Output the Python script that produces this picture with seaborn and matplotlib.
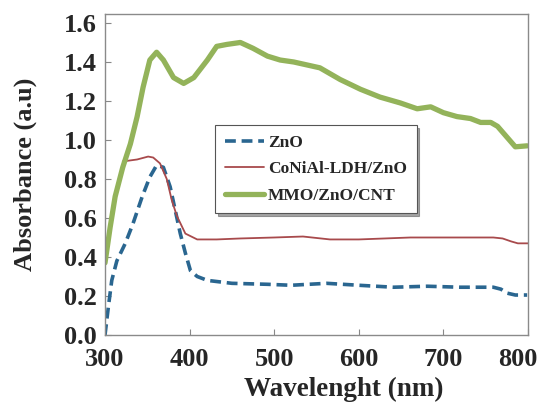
import matplotlib
matplotlib.use("Agg")
import matplotlib.pyplot as plt
import matplotlib.transforms as mtrans
import seaborn as sns
import pandas as pd

# ZnO
zno_x = [300, 304, 308, 314, 324, 333, 344, 353, 361, 369, 377, 383, 389, 395, 401, 409, 421, 450,
         492, 520, 562, 600, 641, 681, 720, 759, 768, 775, 785, 799]
zno_y = [0.00, 0.145, 0.28, 0.38, 0.47, 0.57, 0.71, 0.81, 0.87, 0.86, 0.76, 0.64, 0.52, 0.42, 0.33,
         0.30, 0.28, 0.265, 0.26, 0.255, 0.265, 0.255, 0.245, 0.25, 0.245, 0.245, 0.235, 0.215,
         0.205, 0.205]
# CoNiAl-LDH/ZnO
ldh_x = [321, 338, 351, 357, 365, 373, 379, 385, 395, 409, 432, 460, 500, 534, 566, 600, 661,
         700, 759, 770, 780, 788, 800]
ldh_y = [0.89, 0.90, 0.915, 0.91, 0.88, 0.80, 0.69, 0.61, 0.52, 0.49, 0.49, 0.495, 0.50, 0.505,
         0.49, 0.49, 0.50, 0.50, 0.50, 0.495, 0.48, 0.47, 0.47]
# MMO/ZnO/CNT
mmo_x = [300, 301, 306, 312, 321, 330, 338, 345, 353, 361, 369, 381, 393, 405, 421, 432, 444, 460,
         475, 492, 507, 523, 554, 578, 602, 625, 649, 669, 685, 700, 716, 732, 744, 756, 764, 776,
         785, 799]
mmo_y = [0.37, 0.40, 0.55, 0.71, 0.86, 0.98, 1.12, 1.27, 1.41, 1.45, 1.41, 1.32, 1.29, 1.32, 1.41,
         1.48, 1.49, 1.50, 1.47, 1.43, 1.41, 1.40, 1.37, 1.31, 1.26, 1.22, 1.19, 1.16, 1.17, 1.14,
         1.12, 1.11, 1.09, 1.09, 1.07, 1.01, 0.965, 0.97]

labels = ["ZnO", "CoNiAl-LDH/ZnO", "MMO/ZnO/CNT"]
x_ticks = [300, 400, 500, 600, 700, 800]
y_ticks = [0.0, 0.2, 0.4, 0.6, 0.8, 1.0, 1.2, 1.4, 1.6]

df = pd.concat([
    pd.DataFrame({"x": zno_x, "y": zno_y, "s": labels[0]}),
    pd.DataFrame({"x": ldh_x, "y": ldh_y, "s": labels[1]}),
    pd.DataFrame({"x": mmo_x, "y": mmo_y, "s": labels[2]}),
])

sns.set_theme(style="white")
plt.rcParams["font.family"] = ["Liberation Serif", "DejaVu Serif"]
plt.rcParams["font.weight"] = "bold"

fig = plt.figure(figsize=(5.43, 4.04), dpi=100)
ax = fig.add_axes([105/543, 1-335/404, 423/543, 321/404])

colors = {labels[0]: "#2a6690", labels[1]: "#a84a4c", labels[2]: "#93b35a"}
widths = {labels[0]: 2.6, labels[1]: 1.3, labels[2]: 3.8}
styles = {labels[0]: (0, (3, 1.6)), labels[1]: "-", labels[2]: "-"}

for lab in labels:
    sub = df[df["s"] == lab]
    sns.lineplot(data=sub, x="x", y="y", ax=ax, color=colors[lab], lw=widths[lab],
                 linestyle=styles[lab], label=lab, estimator=None, sort=False)

ax.set_xlim(300, 800)
ax.set_ylim(0, 1.646)
ax.set_xticks(x_ticks)
ax.set_xticklabels([str(t) for t in x_ticks])
ax.set_yticks(y_ticks)
ax.set_yticklabels([f"{t:.1f}" for t in y_ticks])
ax.tick_params(direction="in", length=4, width=0.8, color="#888888",
               labelsize=19, left=True, bottom=True)
ax.tick_params(axis="x", pad=9)
ax.tick_params(axis="y", pad=6)
for t in ax.get_xticklabels() + ax.get_yticklabels():
    t.set_fontweight("bold")
# last x tick label sits slightly left of its tick in the reference
last = ax.get_xticklabels()[-1]
last.set_transform(last.get_transform() + mtrans.ScaledTranslation(-10/100, 0, fig.dpi_scale_trans))

for sp in ax.spines.values():
    sp.set_color("#8a8a8a")
    sp.set_linewidth(1.0)

ax.set_xlabel("Wavelenght (nm)", fontsize=19.5, fontweight="bold")
ax.set_ylabel("Absorbance (a.u)", fontsize=19, fontweight="bold")
ax.xaxis.set_label_coords((344-105)/423, -(377-335)/321)
ax.yaxis.set_label_coords(-(105-37)/423, 0.5)

leg = ax.legend(loc="upper left", bbox_to_anchor=((215-105)/423, 1-(125-14)/321),
                prop={"family": "Liberation Serif", "weight": "bold", "size": 12.5},
                frameon=True, fancybox=False, shadow=True, handlelength=2.3,
                handletextpad=0.2, borderpad=0.55, labelspacing=0.6, borderaxespad=0)
leg.get_frame().set_edgecolor("#555555")
leg.get_frame().set_linewidth(0.8)

fig.savefig("out.png", dpi=100)
